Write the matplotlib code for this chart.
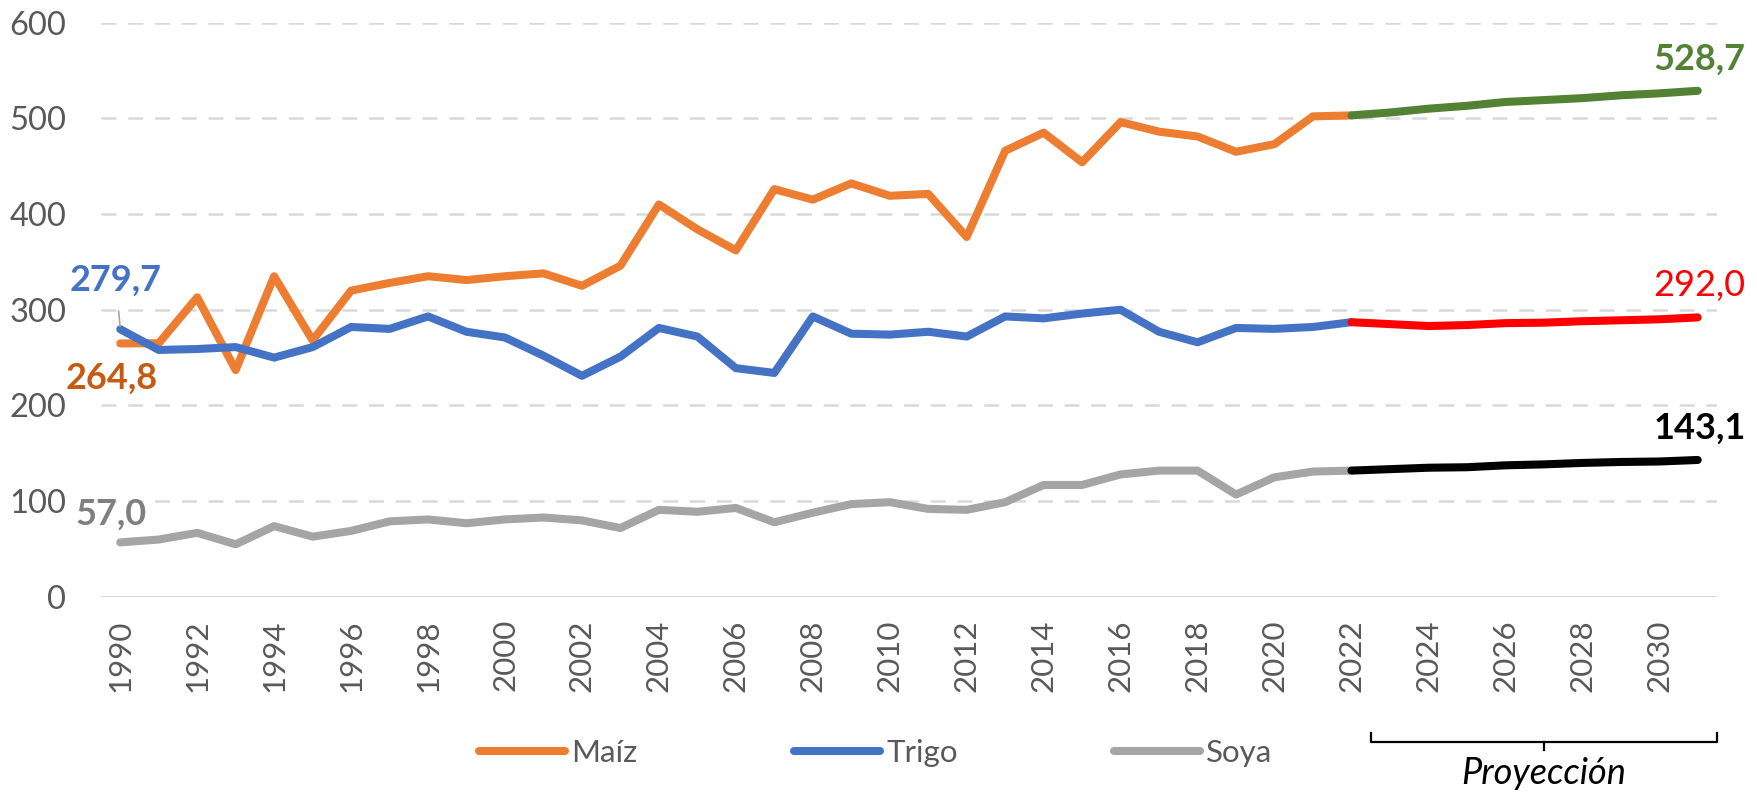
import matplotlib
matplotlib.use("Agg")
import matplotlib.pyplot as plt
from matplotlib.lines import Line2D
from matplotlib.transforms import blended_transform_factory

plt.rcParams["font.family"] = ["Lato", "DejaVu Sans"]

# historical series 1990-2022, projections 2022-2031
years_hist = list(range(1990, 2023))
years_proj = list(range(2022, 2032))

maiz_hist = [264.8, 265, 313, 237, 335, 268, 320, 328, 335, 331,
             335, 338, 325, 346, 410, 384, 362, 426, 415, 432,
             419, 421, 376, 466, 485, 454, 496, 486, 481, 465,
             473, 502, 503]
trigo_hist = [279.7, 258, 259, 261, 250, 261, 282, 280, 293, 277,
              271, 252, 231, 251, 281, 272, 239, 234, 293, 275,
              274, 277, 272, 293, 291, 296, 300, 277, 266, 281,
              280, 282, 287]
soya_hist = [57.0, 60, 67, 55, 74, 63, 69, 79, 81, 77,
             81, 83, 80, 72, 91, 89, 93, 78, 88, 97,
             99, 92, 91, 99, 117, 117, 128, 132, 132, 107,
             125, 131, 132]

maiz_proj = [503, 506, 510, 513, 517, 519, 521, 524, 526, 528.7]
trigo_proj = [287, 285, 283, 284, 286, 286.5, 288, 289, 290, 292.0]
soya_proj = [132, 133.5, 135, 135.5, 137.5, 138.5, 140, 141, 141.5, 143.1]

xtick_years = list(range(1990, 2031, 2))
yticks = list(range(0, 601, 100))

TICK_GREY = "#595959"
LW = 5.8

fig = plt.figure(figsize=(17.57, 7.93), dpi=100)
ax = fig.add_axes([0.0575, 0.2472, 0.9197, 0.7244])

line_kw = dict(lw=LW, solid_capstyle="round", solid_joinstyle="round")
ax.plot(years_hist, maiz_hist, color="#ED7D31", label="Maíz", **line_kw)
ax.plot(years_hist, trigo_hist, color="#4472C4", label="Trigo", **line_kw)
ax.plot(years_hist, soya_hist, color="#A5A5A5", label="Soya", **line_kw)
ax.plot(years_proj, maiz_proj, color="#548235", **line_kw)
ax.plot(years_proj, trigo_proj, color="#FF0000", **line_kw)
ax.plot(years_proj, soya_proj, color="#000000", **line_kw)

ax.set_xlim(years_hist[0] - 0.5, years_proj[-1] + 0.5)
ax.set_ylim(0, 600)
ax.set_yticks(yticks)
ax.set_xticks(xtick_years)
ax.set_xticklabels([str(y) for y in xtick_years], rotation=90)
ax.tick_params(axis="both", length=0, labelcolor=TICK_GREY)
ax.tick_params(axis="y", pad=25, labelsize=23.5)
ax.tick_params(axis="x", pad=16, labelsize=22.5)

for side in ("top", "right", "left", "bottom"):
    ax.spines[side].set_visible(False)
ax.set_axisbelow(True)
ax.yaxis.grid(True, color="#D9D9D9", lw=1.8, linestyle=(0, (6, 4.7)))
ax.axhline(0, color="#D9D9D9", lw=2.2, zorder=1)

# value labels
VAL_FS = 26
ax.annotate("279,7", xy=(years_hist[0], trigo_hist[0]), xytext=(-3, 35),
            textcoords="offset points", ha="center", va="center",
            fontsize=VAL_FS, fontweight="bold", color="#4472C4",
            arrowprops=dict(arrowstyle="-", color="#A6A6A6", lw=1.2,
                            shrinkA=8, shrinkB=2))
ax.annotate("264,8", xy=(years_hist[0], maiz_hist[0]), xytext=(-6, -25),
            textcoords="offset points", ha="center", va="center",
            fontsize=VAL_FS, fontweight="bold", color="#C55A11")
ax.annotate("57,0", xy=(years_hist[0], soya_hist[0]), xytext=(-6.5, 20.5),
            textcoords="offset points", ha="center", va="center",
            fontsize=VAL_FS, fontweight="bold", color="#7F7F7F")
ax.annotate("528,7", xy=(years_proj[-1], maiz_proj[-1]), xytext=(1, 23),
            textcoords="offset points", ha="center", va="center",
            fontsize=VAL_FS, fontweight="bold", color="#548235",
            annotation_clip=False)
ax.annotate("292,0", xy=(years_proj[-1], trigo_proj[-1]), xytext=(1.5, 23.3),
            textcoords="offset points", ha="center", va="center",
            fontsize=VAL_FS, color="#FF0000", annotation_clip=False)
ax.annotate("143,1", xy=(years_proj[-1], soya_proj[-1]), xytext=(1.5, 23),
            textcoords="offset points", ha="center", va="center",
            fontsize=VAL_FS, fontweight="bold", color="#000000",
            annotation_clip=False)

# legend
handles, labels = ax.get_legend_handles_labels()
fig.legend(handles, labels, loc="center", bbox_to_anchor=(0.4985, 0.0504),
           ncol=3, frameon=False, fontsize=22.5, handlelength=2.75,
           handletextpad=0.2, columnspacing=5.0, labelcolor=TICK_GREY)

# projection bracket
trans = blended_transform_factory(ax.transData, fig.transFigure)
x0 = years_proj[0] + 0.5
x1 = years_proj[-1] + 0.5
xm = 0.5 * (x0 + x1)
y_bar, y_top, y_tick = 0.0643, 0.0757, 0.054
fig.add_artist(Line2D([x0, x0, x1, x1], [y_top, y_bar, y_bar, y_top],
                      transform=trans, color="black", lw=1.6, clip_on=False))
fig.add_artist(Line2D([xm, xm], [y_bar, y_tick], transform=trans,
                      color="black", lw=1.6, clip_on=False))
fig.text(xm, 0.024, "Proyección", transform=trans, ha="center", va="center",
         fontsize=26, fontstyle="italic", color="black")

fig.savefig("out.png", dpi=100)
